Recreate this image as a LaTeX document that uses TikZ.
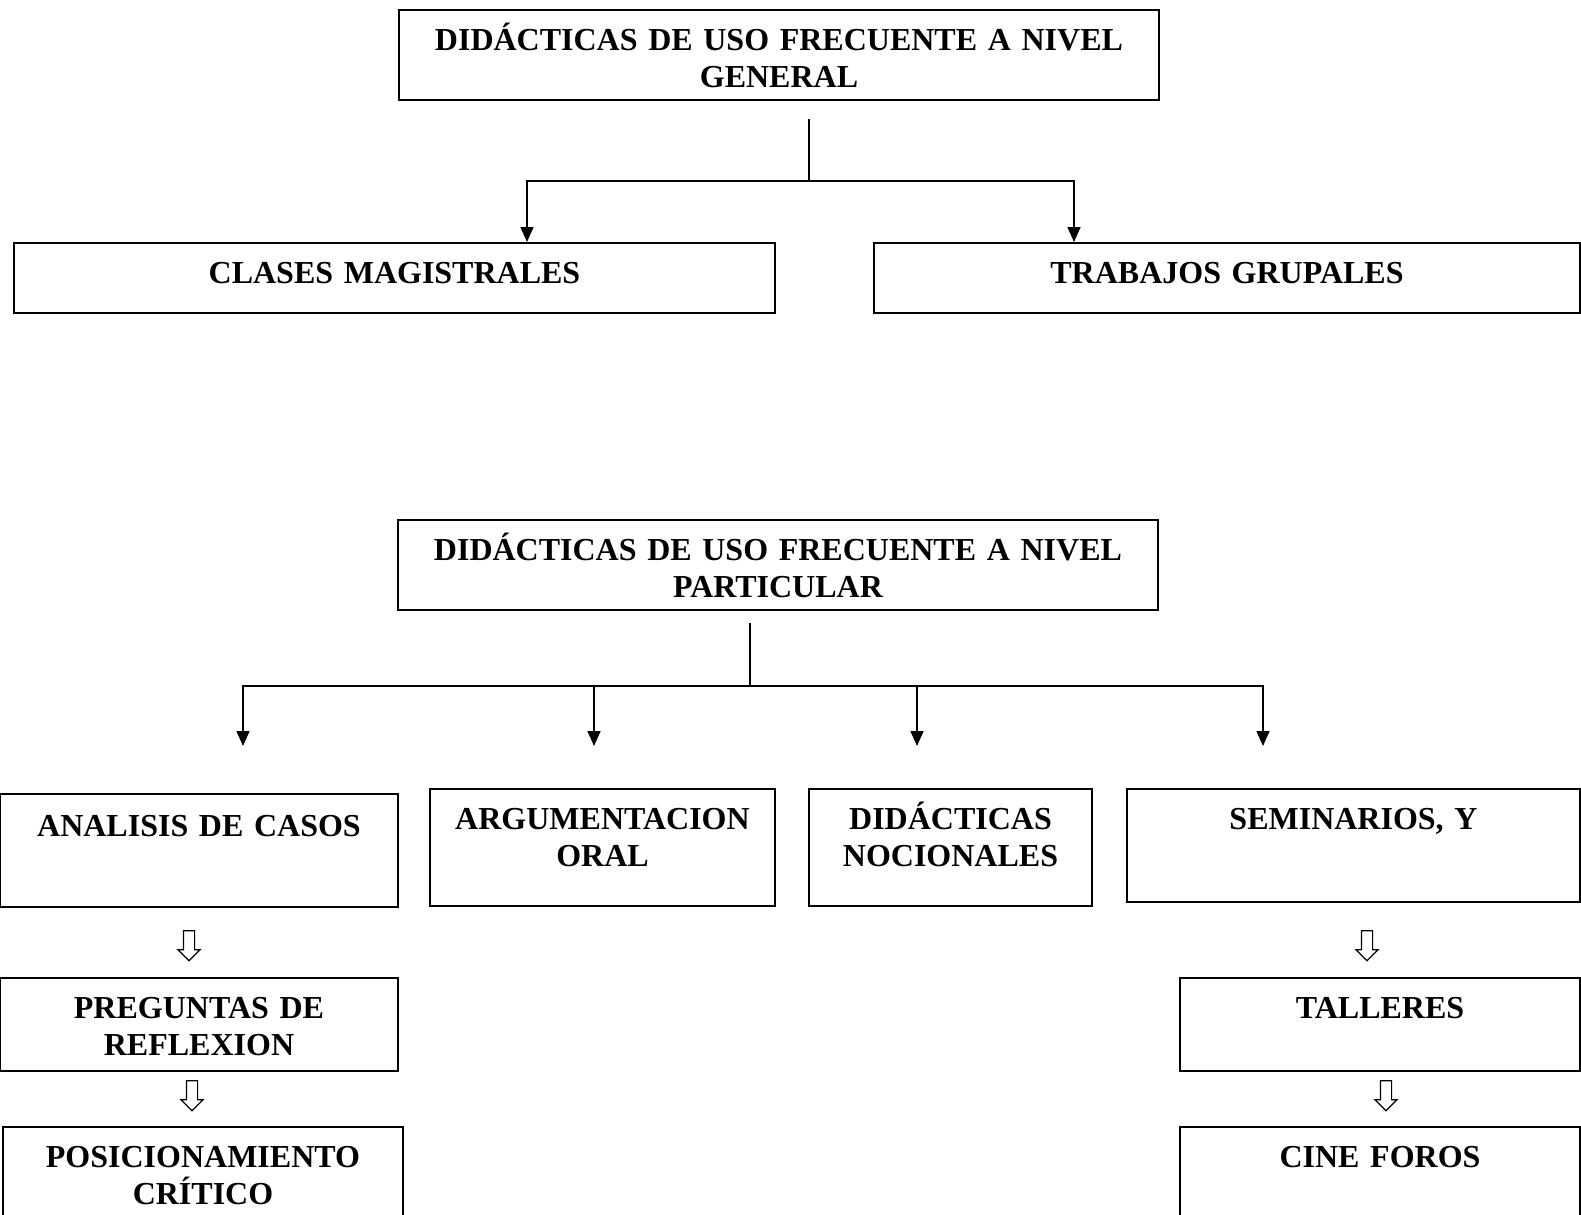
\documentclass[tikz,border=0pt]{standalone}
\usepackage{fontspec}
\setmainfont{Liberation Serif}
\usetikzlibrary{arrows.meta,shapes.arrows}

\begin{document}
\begin{tikzpicture}[x=0.5pt,y=-0.5pt,
    box/.style={draw, line width=1pt, inner sep=0pt, align=center, anchor=north west,
      font=\fontsize{16}{18.5}\selectfont\bfseries, text height=20pt},
    conn/.style={line width=0.8pt},
    arr/.style={line width=0.8pt,-{Triangle[length=7.5pt,width=6.5pt]}},
    hollow/.style={draw, line width=0.6pt, single arrow, shape border rotate=270,
      minimum height=15pt, single arrow head extend=2.75pt, inner xsep=2.5pt, inner ysep=0pt}]
  \useasboundingbox (0,0) rectangle (1581,1215);

  % nivel general
  \node[box, text width=380pt, text depth=25pt] (gen) at (398,9) {DIDÁCTICAS DE USO FRECUENTE A NIVEL\\GENERAL};
  \node[box, text width=380.5pt, text depth=15pt] (clases) at (13,242) {CLASES MAGISTRALES};
  \node[box, text width=353pt, text depth=15pt] (trabajos) at (873,242) {TRABAJOS GRUPALES};

  \coordinate (GenStem)  at (809,119);
  \coordinate (GenFork)  at (809,181);
  \coordinate (ClasesIn) at (527,242);
  \coordinate (TrabIn)   at (1074,242);
  \draw [conn] (GenStem) -- (GenFork);% Draw stem
  \draw [arr] (GenFork) -| (ClasesIn);% Draw left branch
  \draw [arr] (GenFork) -| (TrabIn);% Draw right branch

  % nivel particular
  \node[box, text width=380pt, text depth=25pt] (part) at (397,519) {DIDÁCTICAS DE USO FRECUENTE A NIVEL\\PARTICULAR};

  \node[box, text width=199pt, text depth=35.5pt, text height=21pt] (casos) at (-1,793) {ANALISIS DE CASOS};
  \node[box, text width=172.5pt, text depth=38.5pt] (oral) at (429,788) {ARGUMENTACION\\ORAL};
  \node[box, text width=141.5pt, text depth=38.5pt] (nocion) at (808,788) {DIDÁCTICAS\\NOCIONALES};
  \node[box, text width=226.5pt, text depth=36.5pt] (semin) at (1126,788) {SEMINARIOS, Y};

  \node[box, text width=199pt, text depth=26.5pt] (pregun) at (-1,977) {PREGUNTAS DE\\REFLEXION};
  \node[box, text width=200pt, text depth=37pt] (posic) at (2,1126) {POSICIONAMIENTO\\CRÍTICO};
  \node[box, text width=200pt, text depth=26.5pt] (taller) at (1179,977) {TALLERES};
  \node[box, text width=200pt, text depth=37pt] (cine) at (1179,1126) {CINE FOROS};

  \coordinate (PartStem) at (750,623);
  \coordinate (PartFork) at (750,686);
  \coordinate (CasosIn)  at (243,746);
  \coordinate (OralIn)   at (594,746);
  \coordinate (NocionIn) at (917,746);
  \coordinate (SeminIn)  at (1263,746);
  \draw [conn] (PartStem) -- (PartFork);% Draw stem
  \foreach \t in {CasosIn,OralIn,NocionIn,SeminIn}
    \draw [arr] (PartFork) -| (\t);% Draw branches

  % flechas huecas
  \node[hollow] (casosDown)  at (189,943)  {};
  \node[hollow] (pregunDown) at (192,1093) {};
  \node[hollow] (seminDown)  at (1367,943) {};
  \node[hollow] (tallerDown) at (1386,1093) {};
\end{tikzpicture}
\end{document}
